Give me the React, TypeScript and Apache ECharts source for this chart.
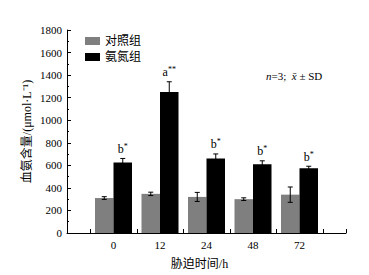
import React, { useEffect, useRef } from "react";
import * as echarts from "echarts";

const times = ["0", "12", "24", "48", "72"];
const controlMean = [310, 347, 320, 300, 340];
const controlSD = [12, 15, 40, 12, 68];
const ammoniaMean = [626, 1251, 661, 610, 574];
const ammoniaSD = [35, 90, 40, 30, 18];
const letters = ["b", "a", "b", "b", "b"];
const stars = ["*", "**", "*", "*", "*"];
const yTicks = { min: 0, max: 1800, interval: 200 };

const SERIF = "'Liberation Serif', 'Times New Roman', 'Noto Sans CJK SC', serif";
const BAR_W = 18.5;

export default function App() {
  const ref = useRef<HTMLDivElement>(null);
  useEffect(() => {
    if (!ref.current) return;
    const chart = echarts.init(ref.current, null, { renderer: "svg" });
    const cats = ["", ...times, ""];
    const halfCats = Array.from({ length: cats.length * 2 - 1 }, () => "");
    const ctrlErr = times.map((_, i) => [i + 1, controlMean[i], controlSD[i], -1, ""]);
    const ammErr = times.map((_, i) => [
      i + 1,
      ammoniaMean[i],
      ammoniaSD[i],
      1,
      letters[i] + "|" + stars[i],
    ]);
    const renderErr = (params: any, api: any) => {
      const idx = api.value(0);
      const mean = api.value(1);
      const sd = api.value(2);
      const side = api.value(3);
      const lab = String(api.value(4) || "");
      const c = api.coord([idx, mean]);
      const t = api.coord([idx, mean + sd]);
      const b = api.coord([idx, mean - sd]);
      const x = c[0] + (side * BAR_W) / 2;
      const st = { stroke: "#000", lineWidth: 1 };
      const children: any[] = [
        { type: "line", shape: { x1: x, y1: t[1], x2: x, y2: b[1] }, style: st },
        { type: "line", shape: { x1: x - 2.5, y1: t[1], x2: x + 2.5, y2: t[1] }, style: st },
        { type: "line", shape: { x1: x - 2.5, y1: b[1], x2: x + 2.5, y2: b[1] }, style: st },
      ];
      if (lab) {
        const [l, s] = lab.split("|");
        children.push({
          type: "text",
          x: x,
          y: t[1] - 3,
          style: {
            text: "{l|" + l + "}{s|" + s + "}",
            align: "center",
            verticalAlign: "bottom",
            rich: {
              l: { fontFamily: SERIF, fontSize: 12, color: "#000", lineHeight: 13 },
              s: {
                fontFamily: SERIF,
                fontSize: 8,
                color: "#000",
                lineHeight: 13,
                verticalAlign: "top",
                padding: [0, 0, 4, 0],
              },
            },
          },
        });
      }
      return { type: "group", children };
    };

    chart.setOption({
      animation: false,
      backgroundColor: "#fff",
      textStyle: { fontFamily: SERIF },
      grid: { left: 67, right: 23, top: 30, bottom: 40 },
      legend: {
        data: ["对照组", "氨氮组"],
        orient: "vertical",
        left: 85,
        top: 35,
        padding: 0,
        itemWidth: 15,
        itemHeight: 8,
        itemGap: 4,
        icon: "rect",
        textStyle: { fontFamily: SERIF, fontSize: 12, color: "#000" },
      },
      graphic: [
        {
          type: "text",
          left: 266,
          top: 70,
          style: {
            text: "{i|n}=3;  {i|x\u0304} ± SD",
            fontFamily: SERIF,
            fontSize: 11,
            fill: "#000",
            rich: { i: { fontStyle: "italic", fontFamily: SERIF, fontSize: 11 } },
          },
        },
      ],
      xAxis: [
        {
          type: "category",
          data: cats,
          boundaryGap: false,
          axisLine: { lineStyle: { color: "#000", width: 1 } },
          axisTick: { show: false },
          axisLabel: { color: "#000", fontFamily: SERIF, fontSize: 11, margin: 7, interval: 0 },
          name: "胁迫时间/h",
          nameLocation: "middle",
          nameGap: 25,
          nameMoveOverlap: false,
          nameTextStyle: { color: "#000", fontFamily: SERIF, fontSize: 12, padding: [0, 14, 0, 0] },
        },
        {
          type: "category",
          data: halfCats,
          boundaryGap: false,
          position: "bottom",
          axisLine: { show: false },
          axisLabel: { show: false },
          axisTick: {
            show: true,
            inside: true,
            length: 4,
            interval: (i: number) => i % 2 === 1 || i === halfCats.length - 1,
            lineStyle: { color: "#000" },
          },
        },
      ],
      yAxis: {
        type: "value",
        min: yTicks.min,
        max: yTicks.max,
        interval: yTicks.interval,
        splitLine: { show: false },
        axisLine: { show: true, lineStyle: { color: "#000", width: 1 } },
        axisTick: { show: true, inside: true, length: 4, lineStyle: { color: "#000" } },
        minorTick: { show: true, splitNumber: 2, length: 2, lineStyle: { color: "#000" } },
        axisLabel: {
          color: "#000",
          fontFamily: SERIF,
          fontSize: 11,
          margin: 5,
          formatter: (v: number) => String(v),
        },
        name: "血氨含量/(μmol·L⁻¹)",
        nameLocation: "middle",
        nameGap: 34,
        nameMoveOverlap: false,
        nameTextStyle: { color: "#000", fontFamily: SERIF, fontSize: 12 },
      },
      series: [
        {
          name: "对照组",
          type: "bar",
          xAxisIndex: 0,
          barWidth: BAR_W,
          barGap: "0%",
          itemStyle: { color: "#7f7f7f" },
          data: times.map((_, i) => [i + 1, controlMean[i]]),
        },
        {
          name: "氨氮组",
          type: "bar",
          xAxisIndex: 0,
          barWidth: BAR_W,
          barGap: "0%",
          itemStyle: { color: "#000" },
          data: times.map((_, i) => [i + 1, ammoniaMean[i]]),
        },
        {
          type: "custom",
          xAxisIndex: 0,
          renderItem: renderErr,
          data: ctrlErr,
          z: 5,
        },
        {
          type: "custom",
          xAxisIndex: 0,
          renderItem: renderErr,
          data: ammErr,
          z: 5,
        },
      ],
    });
    return () => chart.dispose();
  }, []);
  return <div ref={ref} style={{ width: 369, height: 275, position: "absolute", left: 0, top: 0 }} />;
}
